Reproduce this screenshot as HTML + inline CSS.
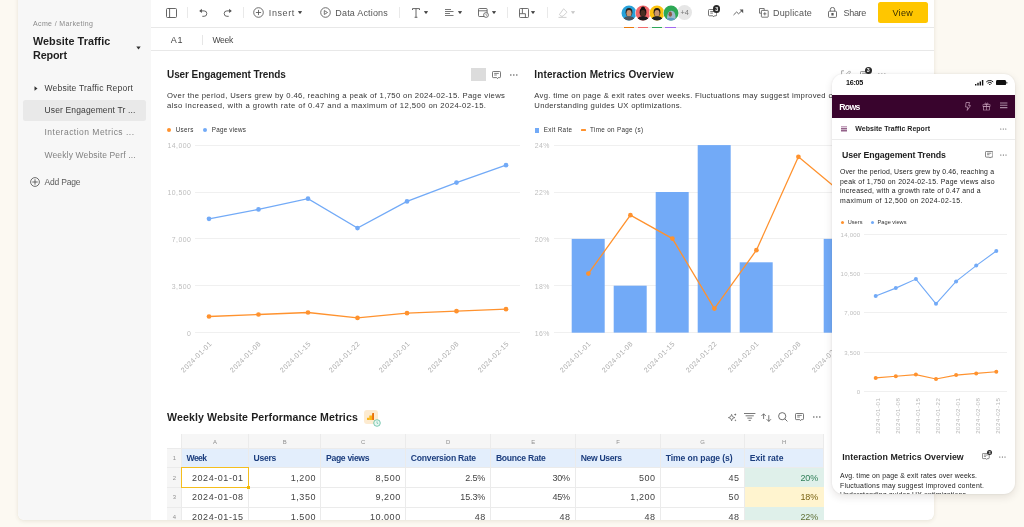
<!DOCTYPE html><html lang="en"><head><meta charset="utf-8"><title>Website Traffic Report</title><style>
html,body{margin:0;padding:0;}
body{width:1024px;height:527px;overflow:hidden;background:#fcf9f2;font-family:'Liberation Sans',sans-serif;position:relative;}
.t{position:absolute;white-space:pre;}
.r{position:absolute;}
#win{position:absolute;left:0;top:0;width:1024px;height:527px;}
#winbg{position:absolute;left:18px;top:-12px;width:915.6px;height:531.5px;background:#fff;border-radius:6px;box-shadow:0 1px 4px rgba(70,60,20,0.11),0 0 1px rgba(0,0,0,0.06);}
#side{position:absolute;left:18px;top:-12px;width:133px;height:531.5px;background:#f7f7f7;border-radius:6px 0 0 6px;}
#clip{position:absolute;left:18px;top:0;width:915.6px;height:519.5px;overflow:hidden;border-radius:0 0 6px 6px;}
#clip>#win{left:-18px;}
#phone{position:absolute;left:832px;top:74.3px;width:183px;height:419.3px;background:#fff;border-radius:11px;overflow:hidden;box-shadow:0 3px 8px rgba(40,20,0,0.11),0 0 2px rgba(0,0,0,0.09);}
</style></head><body><div id="winbg"></div><div id="clip"><div id="win"><div id="side"></div><div class="t" style="left:33.00px;top:19.02px;font-size:7px;line-height:9px;color:#8a8a8a;letter-spacing:0.369px;">Acme / Marketing</div><div class="t" style="left:33.00px;top:34.02px;font-size:10.8px;line-height:14px;color:#1f1f1f;font-weight:700;letter-spacing:0.049px;">Website Traffic</div><div class="t" style="left:33.00px;top:48.02px;font-size:10.8px;line-height:14px;color:#1f1f1f;font-weight:700;letter-spacing:-0.159px;">Report</div><svg class="r" style="left:136.00px;top:46.00px;" width="5" height="4" viewBox="0 0 5 4"><path d="M0.3 0.5h4.4L2.5 3.5z" fill="#333"/></svg><svg class="r" style="left:34.00px;top:85.50px;" width="4" height="5" viewBox="0 0 4 5"><path d="M0.5 0.3v4.4L3.5 2.5z" fill="#333"/></svg><div class="t" style="left:44.50px;top:82.52px;font-size:8.5px;line-height:11px;color:#3a3a3a;letter-spacing:0.215px;">Website Traffic Report</div><div class="r" style="left:23.00px;top:99.80px;width:123.00px;height:21.20px;background:#e9e9e9;border-radius:2.5px;"></div><div class="t" style="left:44.50px;top:104.52px;font-size:8.5px;line-height:11px;color:#3a3a3a;letter-spacing:0.139px;">User Engagement Tr ...</div><div class="t" style="left:44.50px;top:126.52px;font-size:8.5px;line-height:11px;color:#808080;letter-spacing:0.482px;">Interaction Metrics ...</div><div class="t" style="left:44.50px;top:149.52px;font-size:8.5px;line-height:11px;color:#808080;letter-spacing:0.135px;">Weekly Website Perf ...</div><svg class="r" style="left:29.75px;top:177.25px;" width="10" height="10" viewBox="0 0 10 10"><circle cx="5" cy="5" r="4.4" fill="none" stroke="#555" stroke-width="0.85"/><path d="M5 2.3v5.4M2.3 5h5.4" stroke="#555" stroke-width="0.9"/></svg><div class="t" style="left:44.50px;top:176.52px;font-size:8.5px;line-height:11px;color:#5a5a5a;letter-spacing:-0.192px;">Add Page</div><div class="r" style="left:151.00px;top:27.00px;width:783.00px;height:1.00px;background:#e8e8e8;"></div><div class="r" style="left:151.00px;top:50.00px;width:783.00px;height:1.00px;background:#e8e8e8;"></div><svg class="r" style="left:166.00px;top:8.00px;" width="11" height="10" viewBox="0 0 11 10"><rect x="0.5" y="0.5" width="10" height="9" rx="1" fill="none" stroke="#555" stroke-width="0.9"/><path d="M3.6 0.5v9" stroke="#555" stroke-width="0.9"/></svg><div class="r" style="left:186.50px;top:7.00px;width:1.00px;height:11.00px;background:#e9e9e9;"></div><svg class="r" style="left:198.50px;top:8.00px;" width="9" height="9" viewBox="0 0 9 9"><path d="M1.4 2.9h3.7a2.7 2.7 0 0 1 0 5.4H3.3" fill="none" stroke="#555" stroke-width="0.9"/><path d="M0.2 2.9L2.9 0.7v4.4z" fill="#555"/></svg><svg class="r" style="left:223.20px;top:8.00px;" width="9" height="9" viewBox="0 0 9 9"><path d="M5.7 8.3H3.9a2.7 2.7 0 0 1 0-5.4h3.7" fill="none" stroke="#555" stroke-width="0.9"/><path d="M8.8 2.9L6.1 0.7v4.4z" fill="#555"/></svg><div class="r" style="left:243.00px;top:7.00px;width:1.00px;height:11.00px;background:#e9e9e9;"></div><svg class="r" style="left:253.00px;top:7.20px;" width="11" height="11" viewBox="0 0 11 11"><circle cx="5.5" cy="5.5" r="4.8" fill="none" stroke="#555" stroke-width="0.85"/><path d="M5.5 2.9v5.2M2.9 5.5h5.2" stroke="#555" stroke-width="0.85"/></svg><div class="t" style="left:268.80px;top:7.02px;font-size:9px;line-height:12px;color:#555;letter-spacing:0.597px;">Insert</div><svg class="r" style="left:297.80px;top:11.30px;" width="4" height="3" viewBox="0 0 4 3"><path d="M0.2 0.3h3.6L2 2.7z" fill="#333" stroke="#333" stroke-width="0.4" stroke-linejoin="round"/></svg><svg class="r" style="left:319.70px;top:7.20px;" width="11" height="11" viewBox="0 0 11 11"><circle cx="5.5" cy="5.5" r="4.8" fill="none" stroke="#555" stroke-width="0.85"/><path d="M4.3 3.5v4l3.2-2z" fill="none" stroke="#555" stroke-width="0.8" stroke-linejoin="round"/></svg><div class="t" style="left:335.30px;top:7.02px;font-size:9px;line-height:12px;color:#555;letter-spacing:0.179px;">Data Actions</div><div class="r" style="left:399.00px;top:7.00px;width:1.00px;height:11.00px;background:#e9e9e9;"></div><svg class="r" style="left:412.00px;top:8.00px;" width="8" height="10" viewBox="0 0 8 10"><path d="M0.5 2V0.6h7V2M4 0.6v8.6M2.6 9.3h2.8" fill="none" stroke="#555" stroke-width="0.9"/></svg><svg class="r" style="left:423.80px;top:11.30px;" width="4" height="3" viewBox="0 0 4 3"><path d="M0.2 0.3h3.6L2 2.7z" fill="#333" stroke="#333" stroke-width="0.4" stroke-linejoin="round"/></svg><svg class="r" style="left:444.50px;top:9.00px;" width="9" height="7" viewBox="0 0 9 7"><path d="M0 0.5h6M0 2.5h8.5M0 4.5h5M0 6.5h8.5" stroke="#555" stroke-width="0.8"/></svg><svg class="r" style="left:457.50px;top:11.30px;" width="4" height="3" viewBox="0 0 4 3"><path d="M0.2 0.3h3.6L2 2.7z" fill="#333" stroke="#333" stroke-width="0.4" stroke-linejoin="round"/></svg><svg class="r" style="left:477.50px;top:8.00px;" width="11" height="10" viewBox="0 0 11 10"><rect x="0.5" y="0.5" width="8.6" height="8" rx="0.8" fill="none" stroke="#555" stroke-width="0.85"/><path d="M0.5 2.8h8.6" stroke="#555" stroke-width="0.85"/><circle cx="8" cy="7" r="2.4" fill="#fff" stroke="#555" stroke-width="0.8"/><path d="M8 5.8v1.2l0.9 0.6" fill="none" stroke="#555" stroke-width="0.6"/></svg><svg class="r" style="left:491.80px;top:11.30px;" width="4" height="3" viewBox="0 0 4 3"><path d="M0.2 0.3h3.6L2 2.7z" fill="#333" stroke="#333" stroke-width="0.4" stroke-linejoin="round"/></svg><div class="r" style="left:507.00px;top:7.00px;width:1.00px;height:11.00px;background:#e9e9e9;"></div><svg class="r" style="left:518.70px;top:8.00px;" width="10" height="10" viewBox="0 0 10 10"><rect x="0.5" y="0.5" width="9" height="9" rx="0.8" fill="none" stroke="#555" stroke-width="0.85"/><path d="M3.4 0.5v5.2h-2.9M3.4 5.7h3v3.8" fill="none" stroke="#555" stroke-width="0.85"/></svg><svg class="r" style="left:531.00px;top:11.30px;" width="4" height="3" viewBox="0 0 4 3"><path d="M0.2 0.3h3.6L2 2.7z" fill="#333" stroke="#333" stroke-width="0.4" stroke-linejoin="round"/></svg><div class="r" style="left:547.00px;top:7.00px;width:1.00px;height:11.00px;background:#e9e9e9;"></div><svg class="r" style="left:558.00px;top:8.00px;" width="10" height="10" viewBox="0 0 10 10"><path d="M5.6 0.8L9 4.2 5 8.2H3L1.4 6.6z" fill="none" stroke="#c4c4c4" stroke-width="0.8" stroke-linejoin="round"/><path d="M0.5 9.4h8" stroke="#c4c4c4" stroke-width="0.8"/></svg><svg class="r" style="left:571.00px;top:11.30px;" width="4" height="3" viewBox="0 0 4 3"><path d="M0.2 0.3h3.6L2 2.7z" fill="#c4c4c4" stroke="#c4c4c4" stroke-width="0.4" stroke-linejoin="round"/></svg><div class="r" style="left:676.65px;top:5.05px;width:15.30px;height:15.30px;background:#e6e6e6;border-radius:50%;"></div><div class="t" style="left:680.44px;top:8.02px;font-size:7.3px;line-height:9px;color:#777;">+4</div><svg class="r" style="left:620.60px;top:4.50px;" width="16" height="16" viewBox="-0.5 -0.5 15.6 15.6"><defs><clipPath id="c0"><circle cx="7.3" cy="7.3" r="7.3"/></clipPath></defs><circle cx="7.3" cy="7.3" r="7.75" fill="#fff"/><circle cx="7.3" cy="7.3" r="7.3" fill="#27a1d9"/><g clip-path="url(#c0)"><ellipse cx="7.3" cy="6.6" rx="3.3" ry="4.1" fill="#2a2320"/><ellipse cx="7.3" cy="7.6" rx="2.5" ry="3.3" fill="#c99474"/><path d="M1.6 15.4c0-3.6 2.4-4.9 5.7-4.9s5.7 1.3 5.7 4.9z" fill="#4a5560"/></g></svg><div class="r" style="left:623.85px;top:26.50px;width:10.30px;height:1.50px;background:#ea7a0c;"></div><svg class="r" style="left:634.70px;top:4.50px;" width="16" height="16" viewBox="-0.5 -0.5 15.6 15.6"><defs><clipPath id="c1"><circle cx="7.3" cy="7.3" r="7.3"/></clipPath></defs><circle cx="7.3" cy="7.3" r="7.75" fill="#fff"/><circle cx="7.3" cy="7.3" r="7.3" fill="#f2666a"/><g clip-path="url(#c1)"><ellipse cx="7.3" cy="3.2" rx="2" ry="2.2" fill="#15100e"/><ellipse cx="7.3" cy="6.6" rx="3.3" ry="4.1" fill="#15100e"/><ellipse cx="7.3" cy="7.6" rx="2.5" ry="3.3" fill="#4a2e22"/><path d="M1.6 15.4c0-3.6 2.4-4.9 5.7-4.9s5.7 1.3 5.7 4.9z" fill="#1c1a1c"/></g></svg><div class="r" style="left:637.75px;top:26.50px;width:10.30px;height:1.50px;background:#f26b6b;"></div><svg class="r" style="left:648.70px;top:4.50px;" width="16" height="16" viewBox="-0.5 -0.5 15.6 15.6"><defs><clipPath id="c2"><circle cx="7.3" cy="7.3" r="7.3"/></clipPath></defs><circle cx="7.3" cy="7.3" r="7.75" fill="#fff"/><circle cx="7.3" cy="7.3" r="7.3" fill="#fcc30f"/><g clip-path="url(#c2)"><ellipse cx="7.3" cy="6.6" rx="3.3" ry="4.1" fill="#231a14"/><ellipse cx="7.3" cy="7.6" rx="2.5" ry="3.3" fill="#c9956c"/><path d="M1.6 15.4c0-3.6 2.4-4.9 5.7-4.9s5.7 1.3 5.7 4.9z" fill="#1d2226"/></g></svg><div class="r" style="left:651.55px;top:26.50px;width:10.30px;height:1.50px;background:#2fa85a;"></div><svg class="r" style="left:662.50px;top:4.50px;" width="16" height="16" viewBox="-0.5 -0.5 15.6 15.6"><defs><clipPath id="c3"><circle cx="7.3" cy="7.3" r="7.3"/></clipPath></defs><circle cx="7.3" cy="7.3" r="7.75" fill="#fff"/><circle cx="7.3" cy="7.3" r="7.3" fill="#2da855"/><g clip-path="url(#c3)"><path d="M3.6 15c-0.6-3 0-9.600 3.9-9.800 3.600 0 4.600 4 4.200 9.800z" fill="#9db8cc"/><ellipse cx="6.6" cy="8.4" rx="1.7" ry="2.6" fill="#8a5a44"/><path d="M1.600 15.400c0.400-2.400 2.400-3.400 5.400-3.400s5.400 1 5.800 3.400z" fill="#5d9cc4"/></g></svg><div class="r" style="left:665.35px;top:26.50px;width:10.30px;height:1.50px;background:#a36af0;"></div><svg class="r" style="left:708.00px;top:8.60px;" width="9.27" height="8.755" viewBox="0 0 9 8.5"><path d="M1.3 0.5h6.4a0.8 0.8 0 0 1 .8 .8v4.5a0.8 0.8 0 0 1-.8 .8H6.3L5.5 7.6 4.7 6.6H1.3a0.8 0.8 0 0 1-.8-.8V1.3a0.8 0.8 0 0 1 .8-.8z" fill="none" stroke="#555" stroke-width="0.8" stroke-linejoin="round"/><path d="M2.2 2.4h4.6M2.2 4h2.6" stroke="#555" stroke-width="0.75"/></svg><div class="r" style="left:713.10px;top:5.30px;width:7.40px;height:7.40px;background:#2a2a2a;border-radius:50%;"></div><div class="t" style="left:715.31px;top:5.52px;font-size:5.365px;line-height:7px;color:#fff;font-weight:700;">3</div><svg class="r" style="left:733.00px;top:9.00px;" width="11" height="7" viewBox="0 0 11 7"><path d="M0.5 6L3.6 3l2 1.8L9.4 1.2" fill="none" stroke="#555" stroke-width="0.9"/><path d="M6.6 0.6h3.6v3.6z" fill="#555"/></svg><svg class="r" style="left:758.50px;top:7.50px;" width="10" height="10" viewBox="0 0 10 10"><path d="M5.2 2.4V0.5H0.5V5.2H2.4" fill="none" stroke="#555" stroke-width="0.8" stroke-linejoin="round"/><rect x="2.4" y="2.4" width="6.8" height="6.8" rx="0.6" fill="none" stroke="#555" stroke-width="0.8"/><path d="M5.8 4.2v3.2M4.2 5.8h3.2" stroke="#555" stroke-width="0.8"/></svg><div class="t" style="left:773.00px;top:7.02px;font-size:9px;line-height:12px;color:#555;letter-spacing:0.159px;">Duplicate</div><svg class="r" style="left:828.00px;top:6.80px;" width="9" height="11" viewBox="0 0 9 11"><rect x="0.5" y="4.2" width="8" height="6.2" rx="0.9" fill="none" stroke="#555" stroke-width="0.85"/><path d="M2.3 4.2V2.6a2.2 2.2 0 0 1 4.4 0v1.6" fill="none" stroke="#555" stroke-width="0.85"/><rect x="3.7" y="6.4" width="1.6" height="1.8" fill="none" stroke="#555" stroke-width="0.6"/></svg><div class="t" style="left:843.50px;top:7.02px;font-size:9px;line-height:12px;color:#555;letter-spacing:-0.308px;">Share</div><div class="r" style="left:877.60px;top:2.20px;width:50.40px;height:20.80px;background:#ffc600;border-radius:2.5px;"></div><div class="t" style="left:892.47px;top:7.02px;font-size:9px;line-height:12px;color:#3a3000;letter-spacing:0.300px;">View</div><div class="t" style="left:170.80px;top:34.02px;font-size:9px;line-height:12px;color:#444;letter-spacing:0.684px;">A1</div><div class="r" style="left:202.00px;top:35.00px;width:1.00px;height:10.00px;background:#e6e6e6;"></div><div class="t" style="left:212.50px;top:34.52px;font-size:8.5px;line-height:11px;color:#444;letter-spacing:-0.259px;">Week</div><div class="t" style="left:167.00px;top:68.02px;font-size:10px;line-height:13px;color:#1f1f1f;font-weight:700;letter-spacing:-0.085px;">User Engagement Trends</div><div class="r" style="left:470.80px;top:68.00px;width:15.20px;height:12.50px;background:#dcdcdc;"></div><svg class="r" style="left:491.50px;top:70.50px;" width="9.0" height="8.5" viewBox="0 0 9 8.5"><path d="M1.3 0.5h6.4a0.8 0.8 0 0 1 .8 .8v4.5a0.8 0.8 0 0 1-.8 .8H6.3L5.5 7.6 4.7 6.6H1.3a0.8 0.8 0 0 1-.8-.8V1.3a0.8 0.8 0 0 1 .8-.8z" fill="none" stroke="#555" stroke-width="0.8" stroke-linejoin="round"/><path d="M2.2 2.4h4.6M2.2 4h2.6" stroke="#555" stroke-width="0.75"/></svg><svg class="r" style="left:510.00px;top:73.50px;" width="8" height="2" viewBox="0 0 8 2"><circle cx="0.8" cy="1" r="0.75" fill="#555"/><circle cx="3.8" cy="1" r="0.75" fill="#555"/><circle cx="6.8" cy="1" r="0.75" fill="#555"/></svg><div class="t" style="left:167.00px;top:90.52px;font-size:7.7px;line-height:10px;color:#333;letter-spacing:0.347px;">Over the period, Users grew by 0.46, reaching a peak of 1,750 on 2024-02-15. Page views</div><div class="t" style="left:167.00px;top:100.52px;font-size:7.7px;line-height:10px;color:#333;letter-spacing:0.419px;">also increased, with a growth rate of 0.47 and a maximum of 12,500 on 2024-02-15.</div><div class="r" style="left:166.90px;top:128.20px;width:4.20px;height:4.20px;background:#ff922e;border-radius:50%;"></div><div class="t" style="left:175.80px;top:125.52px;font-size:6.3px;line-height:8px;color:#333;letter-spacing:0.262px;">Users</div><div class="r" style="left:202.90px;top:128.20px;width:4.20px;height:4.20px;background:#72aaf7;border-radius:50%;"></div><div class="t" style="left:211.80px;top:125.52px;font-size:6.3px;line-height:8px;color:#333;letter-spacing:0.222px;">Page views</div><div class="r" style="left:195.40px;top:144.60px;width:324.30px;height:1.00px;background:#f0f0f0;"></div><div class="t" style="left:167.62px;top:141.02px;font-size:6.9px;line-height:9px;color:#bdbdbd;letter-spacing:0.420px;">14,000</div><div class="r" style="left:195.40px;top:191.50px;width:324.30px;height:1.00px;background:#f0f0f0;"></div><div class="t" style="left:167.62px;top:188.02px;font-size:6.9px;line-height:9px;color:#bdbdbd;letter-spacing:0.420px;">10,500</div><div class="r" style="left:195.40px;top:238.40px;width:324.30px;height:1.00px;background:#f0f0f0;"></div><div class="t" style="left:171.87px;top:235.02px;font-size:6.9px;line-height:9px;color:#bdbdbd;letter-spacing:0.420px;">7,000</div><div class="r" style="left:195.40px;top:285.20px;width:324.30px;height:1.00px;background:#f0f0f0;"></div><div class="t" style="left:171.87px;top:282.02px;font-size:6.9px;line-height:9px;color:#bdbdbd;letter-spacing:0.420px;">3,500</div><div class="r" style="left:195.40px;top:332.10px;width:324.30px;height:1.00px;background:#f0f0f0;"></div><div class="t" style="left:186.96px;top:329.02px;font-size:6.9px;line-height:9px;color:#bdbdbd;letter-spacing:0.420px;">0</div><svg class="r" style="left:0.00px;top:0.00px;pointer-events:none;" width="1024" height="527" viewBox="0 0 1024 527"><polyline points="209.0,218.8 258.5,209.4 308.0,198.7 357.5,228.1 407.0,201.4 456.5,182.6 506.0,165.2" fill="none" stroke="#72aaf7" stroke-width="1.3"/><circle cx="209.0" cy="218.8" r="2.35" fill="#72aaf7"/><circle cx="258.5" cy="209.4" r="2.35" fill="#72aaf7"/><circle cx="308.0" cy="198.7" r="2.35" fill="#72aaf7"/><circle cx="357.5" cy="228.1" r="2.35" fill="#72aaf7"/><circle cx="407.0" cy="201.4" r="2.35" fill="#72aaf7"/><circle cx="456.5" cy="182.6" r="2.35" fill="#72aaf7"/><circle cx="506.0" cy="165.2" r="2.35" fill="#72aaf7"/><polyline points="209.0,316.5 258.5,314.5 308.0,312.5 357.5,317.9 407.0,313.2 456.5,311.2 506.0,309.2" fill="none" stroke="#ff922e" stroke-width="1.3"/><circle cx="209.0" cy="316.5" r="2.35" fill="#ff922e"/><circle cx="258.5" cy="314.5" r="2.35" fill="#ff922e"/><circle cx="308.0" cy="312.5" r="2.35" fill="#ff922e"/><circle cx="357.5" cy="317.9" r="2.35" fill="#ff922e"/><circle cx="407.0" cy="313.2" r="2.35" fill="#ff922e"/><circle cx="456.5" cy="311.2" r="2.35" fill="#ff922e"/><circle cx="506.0" cy="309.2" r="2.35" fill="#ff922e"/></svg><div class="t" style="left:170.52px;top:338.70px;font-size:7.1px;line-height:9px;letter-spacing:0.42px;color:#adadad;width:40.08px;transform-origin:100% 50%;transform:rotate(-45deg);">2024-01-01</div><div class="t" style="left:220.02px;top:338.70px;font-size:7.1px;line-height:9px;letter-spacing:0.42px;color:#adadad;width:40.08px;transform-origin:100% 50%;transform:rotate(-45deg);">2024-01-08</div><div class="t" style="left:269.52px;top:338.70px;font-size:7.1px;line-height:9px;letter-spacing:0.42px;color:#adadad;width:40.08px;transform-origin:100% 50%;transform:rotate(-45deg);">2024-01-15</div><div class="t" style="left:319.02px;top:338.70px;font-size:7.1px;line-height:9px;letter-spacing:0.42px;color:#adadad;width:40.08px;transform-origin:100% 50%;transform:rotate(-45deg);">2024-01-22</div><div class="t" style="left:368.52px;top:338.70px;font-size:7.1px;line-height:9px;letter-spacing:0.42px;color:#adadad;width:40.08px;transform-origin:100% 50%;transform:rotate(-45deg);">2024-02-01</div><div class="t" style="left:418.02px;top:338.70px;font-size:7.1px;line-height:9px;letter-spacing:0.42px;color:#adadad;width:40.08px;transform-origin:100% 50%;transform:rotate(-45deg);">2024-02-08</div><div class="t" style="left:467.52px;top:338.70px;font-size:7.1px;line-height:9px;letter-spacing:0.42px;color:#adadad;width:40.08px;transform-origin:100% 50%;transform:rotate(-45deg);">2024-02-15</div><div class="t" style="left:534.30px;top:68.02px;font-size:10px;line-height:13px;color:#1f1f1f;font-weight:700;letter-spacing:0.123px;">Interaction Metrics Overview</div><div class="t" style="left:534.30px;top:90.52px;font-size:7.7px;line-height:10px;color:#333;letter-spacing:0.303px;">Avg. time on page &amp; exit rates over weeks. Fluctuations may suggest improved content.</div><div class="t" style="left:534.30px;top:100.52px;font-size:7.7px;line-height:10px;color:#333;letter-spacing:0.296px;">Understanding guides UX optimizations.</div><div class="r" style="left:534.80px;top:128.30px;width:4.30px;height:4.30px;background:#72aaf7;"></div><div class="t" style="left:543.70px;top:125.52px;font-size:6.3px;line-height:8px;color:#333;letter-spacing:0.342px;">Exit Rate</div><div class="r" style="left:581.00px;top:129.40px;width:5.00px;height:1.90px;background:#ff922e;border-radius:0.6px;"></div><div class="t" style="left:590.00px;top:125.52px;font-size:6.3px;line-height:8px;color:#333;letter-spacing:0.329px;">Time on Page (s)</div><svg class="r" style="left:840.50px;top:69.50px;" width="10" height="8" viewBox="0 0 10 8"><path d="M3 0.8H0.6v6h3M5 5.6l0.5-1.8L8.4 0.9l1.2 1.2L6.8 5z" fill="none" stroke="#888" stroke-width="0.7"/></svg><svg class="r" style="left:859.50px;top:70.50px;" width="8.549999999999999" height="8.075" viewBox="0 0 9 8.5"><path d="M1.3 0.5h6.4a0.8 0.8 0 0 1 .8 .8v4.5a0.8 0.8 0 0 1-.8 .8H6.3L5.5 7.6 4.7 6.6H1.3a0.8 0.8 0 0 1-.8-.8V1.3a0.8 0.8 0 0 1 .8-.8z" fill="none" stroke="#777" stroke-width="0.8" stroke-linejoin="round"/><path d="M2.2 2.4h4.6M2.2 4h2.6" stroke="#777" stroke-width="0.75"/></svg><div class="r" style="left:864.50px;top:66.60px;width:7.20px;height:7.20px;background:#2a2a2a;border-radius:50%;"></div><div class="t" style="left:866.65px;top:66.52px;font-size:5.22px;line-height:7px;color:#fff;font-weight:700;">3</div><svg class="r" style="left:878.00px;top:73.00px;" width="8" height="2" viewBox="0 0 8 2"><circle cx="0.8" cy="1" r="0.75" fill="#999"/><circle cx="3.8" cy="1" r="0.75" fill="#999"/><circle cx="6.8" cy="1" r="0.75" fill="#999"/></svg><div class="r" style="left:554.20px;top:144.60px;width:380.00px;height:1.00px;background:#f0f0f0;"></div><div class="t" style="left:534.70px;top:141.02px;font-size:6.9px;line-height:9px;color:#bdbdbd;letter-spacing:0.400px;">24%</div><div class="r" style="left:554.20px;top:191.50px;width:380.00px;height:1.00px;background:#f0f0f0;"></div><div class="t" style="left:534.70px;top:188.02px;font-size:6.9px;line-height:9px;color:#bdbdbd;letter-spacing:0.400px;">22%</div><div class="r" style="left:554.20px;top:238.40px;width:380.00px;height:1.00px;background:#f0f0f0;"></div><div class="t" style="left:534.70px;top:235.02px;font-size:6.9px;line-height:9px;color:#bdbdbd;letter-spacing:0.400px;">20%</div><div class="r" style="left:554.20px;top:285.20px;width:380.00px;height:1.00px;background:#f0f0f0;"></div><div class="t" style="left:534.70px;top:282.02px;font-size:6.9px;line-height:9px;color:#bdbdbd;letter-spacing:0.400px;">18%</div><div class="r" style="left:554.20px;top:332.10px;width:380.00px;height:1.00px;background:#f0f0f0;"></div><div class="t" style="left:534.70px;top:329.02px;font-size:6.9px;line-height:9px;color:#bdbdbd;letter-spacing:0.400px;">16%</div><svg class="r" style="left:0.00px;top:0.00px;pointer-events:none;" width="1024" height="527" viewBox="0 0 1024 527"><rect x="571.7" y="238.9" width="33" height="93.8" fill="#72aaf7"/><rect x="613.7" y="285.7" width="33" height="46.9" fill="#72aaf7"/><rect x="655.7" y="192.0" width="33" height="140.6" fill="#72aaf7"/><rect x="697.7" y="145.1" width="33" height="187.5" fill="#72aaf7"/><rect x="739.7" y="262.3" width="33" height="70.3" fill="#72aaf7"/><rect x="823.7" y="238.9" width="33" height="93.8" fill="#72aaf7"/><polyline points="588.4,273.6 630.4,215.2 672.4,238.6 714.4,308.6 756.4,250.2 798.4,156.8 840.4,191.8" fill="none" stroke="#ff922e" stroke-width="1.3"/><circle cx="588.4" cy="273.6" r="2.35" fill="#ff922e"/><circle cx="630.4" cy="215.2" r="2.35" fill="#ff922e"/><circle cx="672.4" cy="238.6" r="2.35" fill="#ff922e"/><circle cx="714.4" cy="308.6" r="2.35" fill="#ff922e"/><circle cx="756.4" cy="250.2" r="2.35" fill="#ff922e"/><circle cx="798.4" cy="156.8" r="2.35" fill="#ff922e"/><circle cx="840.4" cy="191.8" r="2.35" fill="#ff922e"/></svg><div class="t" style="left:549.92px;top:338.70px;font-size:7.1px;line-height:9px;letter-spacing:0.42px;color:#adadad;width:40.08px;transform-origin:100% 50%;transform:rotate(-45deg);">2024-01-01</div><div class="t" style="left:591.92px;top:338.70px;font-size:7.1px;line-height:9px;letter-spacing:0.42px;color:#adadad;width:40.08px;transform-origin:100% 50%;transform:rotate(-45deg);">2024-01-08</div><div class="t" style="left:633.92px;top:338.70px;font-size:7.1px;line-height:9px;letter-spacing:0.42px;color:#adadad;width:40.08px;transform-origin:100% 50%;transform:rotate(-45deg);">2024-01-15</div><div class="t" style="left:675.92px;top:338.70px;font-size:7.1px;line-height:9px;letter-spacing:0.42px;color:#adadad;width:40.08px;transform-origin:100% 50%;transform:rotate(-45deg);">2024-01-22</div><div class="t" style="left:717.92px;top:338.70px;font-size:7.1px;line-height:9px;letter-spacing:0.42px;color:#adadad;width:40.08px;transform-origin:100% 50%;transform:rotate(-45deg);">2024-02-01</div><div class="t" style="left:759.92px;top:338.70px;font-size:7.1px;line-height:9px;letter-spacing:0.42px;color:#adadad;width:40.08px;transform-origin:100% 50%;transform:rotate(-45deg);">2024-02-08</div><div class="t" style="left:801.92px;top:338.70px;font-size:7.1px;line-height:9px;letter-spacing:0.42px;color:#adadad;width:40.08px;transform-origin:100% 50%;transform:rotate(-45deg);">2024-02-15</div><div class="t" style="left:167.00px;top:410.02px;font-size:10.6px;line-height:14px;color:#1f1f1f;font-weight:700;letter-spacing:0.102px;">Weekly Website Performance Metrics</div><div class="r" style="left:363.80px;top:409.70px;width:14.10px;height:14.10px;background:#fdebd0;border-radius:3px;"></div><svg class="r" style="left:367.00px;top:413.10px;" width="7.4" height="7" viewBox="0 0 7.4 7"><rect x="0" y="4.8" width="2.6" height="2.1" rx="0.3" fill="#fbb616"/><rect x="2.3" y="2.4" width="3" height="4.5" rx="0.3" fill="#fbb616"/><rect x="5.1" y="0" width="2.1" height="6.9" rx="0.4" fill="#e8710a"/></svg><svg class="r" style="left:372.80px;top:418.70px;" width="8" height="8" viewBox="0 0 8 8"><circle cx="4" cy="4" r="3.3" fill="#eaf7f2" stroke="#5dbd9f" stroke-width="0.8"/><path d="M4 2.3v1.9l1.2 0.5" fill="none" stroke="#5dbd9f" stroke-width="0.7"/></svg><svg class="r" style="left:728.00px;top:412.50px;" width="9" height="9" viewBox="0 0 9 9"><path d="M3.6 1.4l0.9 2.3 2.3 0.9-2.3 0.9-0.9 2.3-0.9-2.3L0.4 4.6l2.3-0.9z" fill="none" stroke="#555" stroke-width="0.7" stroke-linejoin="round"/><path d="M7.2 0.3l0.4 1 1 0.4-1 0.4-0.4 1-0.4-1-1-0.4 1-0.4z" fill="#555"/><path d="M7.4 6.2l0.3 0.8 0.8 0.3-0.8 0.3-0.3 0.8-0.3-0.8-0.8-0.3 0.8-0.3z" fill="#555"/></svg><svg class="r" style="left:743.50px;top:413.00px;" width="12" height="8" viewBox="0 0 12 8"><path d="M0 0.5h11.4M1.6 2.8h8.2M3.3 5.1h4.8M4.6 7.4h2.2" stroke="#555" stroke-width="0.8"/></svg><svg class="r" style="left:761.00px;top:412.50px;" width="11" height="9" viewBox="0 0 11 9"><path d="M2.6 6V0.8M0.4 3L2.6 0.8 4.8 3M7.8 2.2v6.2M5.6 6.200l2.200 2.200L10 6.200" fill="none" stroke="#555" stroke-width="0.8"/></svg><svg class="r" style="left:778.00px;top:412.20px;" width="10" height="10" viewBox="0 0 10 10"><circle cx="4.2" cy="4.2" r="3.6" fill="none" stroke="#555" stroke-width="0.85"/><path d="M6.8 6.8L9.4 9.4" stroke="#555" stroke-width="0.85"/></svg><svg class="r" style="left:795.30px;top:412.80px;" width="9.0" height="8.5" viewBox="0 0 9 8.5"><path d="M1.3 0.5h6.4a0.8 0.8 0 0 1 .8 .8v4.5a0.8 0.8 0 0 1-.8 .8H6.3L5.5 7.6 4.7 6.6H1.3a0.8 0.8 0 0 1-.8-.8V1.3a0.8 0.8 0 0 1 .8-.8z" fill="none" stroke="#555" stroke-width="0.8" stroke-linejoin="round"/><path d="M2.2 2.4h4.6M2.2 4h2.6" stroke="#555" stroke-width="0.75"/></svg><svg class="r" style="left:813.00px;top:416.00px;" width="8" height="2" viewBox="0 0 8 2"><circle cx="0.8" cy="1" r="0.75" fill="#555"/><circle cx="3.8" cy="1" r="0.75" fill="#555"/><circle cx="6.8" cy="1" r="0.75" fill="#555"/></svg><div class="r" style="left:181.40px;top:434.30px;width:642.20px;height:13.70px;background:#f6f6f6;"></div><div class="r" style="left:167.00px;top:448.00px;width:14.40px;height:80.00px;background:#f6f6f6;"></div><div class="r" style="left:181.40px;top:448.00px;width:642.20px;height:19.60px;background:#e3eefc;"></div><div class="r" style="left:180.90px;top:434.30px;width:1.00px;height:95.00px;background:#ebebeb;"></div><div class="r" style="left:247.90px;top:434.30px;width:1.00px;height:95.00px;background:#ebebeb;"></div><div class="r" style="left:320.40px;top:434.30px;width:1.00px;height:95.00px;background:#ebebeb;"></div><div class="r" style="left:405.10px;top:434.30px;width:1.00px;height:95.00px;background:#ebebeb;"></div><div class="r" style="left:490.20px;top:434.30px;width:1.00px;height:95.00px;background:#ebebeb;"></div><div class="r" style="left:575.00px;top:434.30px;width:1.00px;height:95.00px;background:#ebebeb;"></div><div class="r" style="left:660.00px;top:434.30px;width:1.00px;height:95.00px;background:#ebebeb;"></div><div class="r" style="left:744.00px;top:434.30px;width:1.00px;height:95.00px;background:#ebebeb;"></div><div class="r" style="left:823.10px;top:434.30px;width:1.00px;height:95.00px;background:#ebebeb;"></div><div class="r" style="left:167.00px;top:448.00px;width:14.00px;height:80.00px;background:#f6f6f6;"></div><div class="r" style="left:167.00px;top:447.50px;width:656.60px;height:1.00px;background:#ebebeb;"></div><div class="r" style="left:167.00px;top:467.10px;width:656.60px;height:1.00px;background:#ebebeb;"></div><div class="r" style="left:167.00px;top:486.90px;width:656.60px;height:1.00px;background:#ebebeb;"></div><div class="r" style="left:167.00px;top:506.70px;width:656.60px;height:1.00px;background:#ebebeb;"></div><div class="r" style="left:167.00px;top:526.50px;width:656.60px;height:1.00px;background:#ebebeb;"></div><div class="r" style="left:745.00px;top:467.60px;width:78.60px;height:19.80px;background:#dff0ea;"></div><div class="r" style="left:745.00px;top:487.40px;width:78.60px;height:19.80px;background:#fff4cf;"></div><div class="r" style="left:745.00px;top:507.20px;width:78.60px;height:19.80px;background:#dff0ea;"></div><div class="t" style="left:212.93px;top:438.02px;font-size:5.9px;line-height:8px;color:#8f8f8f;">A</div><div class="t" style="left:282.68px;top:438.02px;font-size:5.9px;line-height:8px;color:#8f8f8f;">B</div><div class="t" style="left:361.12px;top:438.02px;font-size:5.9px;line-height:8px;color:#8f8f8f;">C</div><div class="t" style="left:446.02px;top:438.02px;font-size:5.9px;line-height:8px;color:#8f8f8f;">D</div><div class="t" style="left:531.13px;top:438.02px;font-size:5.9px;line-height:8px;color:#8f8f8f;">E</div><div class="t" style="left:616.20px;top:438.02px;font-size:5.9px;line-height:8px;color:#8f8f8f;">F</div><div class="t" style="left:700.20px;top:438.02px;font-size:5.9px;line-height:8px;color:#8f8f8f;">G</div><div class="t" style="left:781.92px;top:438.02px;font-size:5.9px;line-height:8px;color:#8f8f8f;">H</div><div class="t" style="left:172.66px;top:454.02px;font-size:5.9px;line-height:8px;color:#8f8f8f;">1</div><div class="t" style="left:172.66px;top:474.02px;font-size:5.9px;line-height:8px;color:#8f8f8f;">2</div><div class="t" style="left:172.66px;top:493.02px;font-size:5.9px;line-height:8px;color:#8f8f8f;">3</div><div class="t" style="left:172.66px;top:513.02px;font-size:5.9px;line-height:8px;color:#8f8f8f;">4</div><div class="t" style="left:186.60px;top:452.52px;font-size:8.6px;line-height:11px;color:#1b3d7e;font-weight:700;letter-spacing:-0.632px;">Week</div><div class="t" style="left:253.60px;top:452.52px;font-size:8.6px;line-height:11px;color:#1b3d7e;font-weight:700;letter-spacing:-0.323px;">Users</div><div class="t" style="left:326.10px;top:452.52px;font-size:8.6px;line-height:11px;color:#1b3d7e;font-weight:700;letter-spacing:-0.327px;">Page views</div><div class="t" style="left:410.80px;top:452.52px;font-size:8.6px;line-height:11px;color:#1b3d7e;font-weight:700;letter-spacing:-0.214px;">Conversion Rate</div><div class="t" style="left:495.90px;top:452.52px;font-size:8.6px;line-height:11px;color:#1b3d7e;font-weight:700;letter-spacing:-0.263px;">Bounce Rate</div><div class="t" style="left:580.70px;top:452.52px;font-size:8.6px;line-height:11px;color:#1b3d7e;font-weight:700;letter-spacing:-0.332px;">New Users</div><div class="t" style="left:665.70px;top:452.52px;font-size:8.6px;line-height:11px;color:#1b3d7e;font-weight:700;letter-spacing:-0.075px;">Time on page (s)</div><div class="t" style="left:749.70px;top:452.52px;font-size:8.6px;line-height:11px;color:#1b3d7e;font-weight:700;letter-spacing:-0.015px;">Exit rate</div><div class="t" style="left:192.00px;top:472.02px;font-size:9px;line-height:12px;color:#444;letter-spacing:0.550px;">2024-01-01</div><div class="t" style="left:290.77px;top:472.02px;font-size:9px;line-height:12px;color:#444;letter-spacing:0.550px;">1,200</div><div class="t" style="left:375.47px;top:472.02px;font-size:9px;line-height:12px;color:#444;letter-spacing:0.550px;">8,500</div><div class="t" style="left:465.23px;top:472.02px;font-size:9px;line-height:12px;color:#444;letter-spacing:-0.150px;">2.5%</div><div class="t" style="left:552.38px;top:472.02px;font-size:9px;line-height:12px;color:#444;letter-spacing:-0.150px;">30%</div><div class="t" style="left:638.97px;top:472.02px;font-size:9px;line-height:12px;color:#444;letter-spacing:0.550px;">500</div><div class="t" style="left:728.53px;top:472.02px;font-size:9px;line-height:12px;color:#444;letter-spacing:0.550px;">45</div><div class="t" style="left:800.48px;top:472.02px;font-size:9px;line-height:12px;color:#2e7d57;letter-spacing:-0.150px;">20%</div><div class="t" style="left:192.00px;top:491.02px;font-size:9px;line-height:12px;color:#444;letter-spacing:0.550px;">2024-01-08</div><div class="t" style="left:290.77px;top:491.02px;font-size:9px;line-height:12px;color:#444;letter-spacing:0.550px;">1,350</div><div class="t" style="left:375.47px;top:491.02px;font-size:9px;line-height:12px;color:#444;letter-spacing:0.550px;">9,200</div><div class="t" style="left:460.37px;top:491.02px;font-size:9px;line-height:12px;color:#444;letter-spacing:-0.150px;">15.3%</div><div class="t" style="left:552.38px;top:491.02px;font-size:9px;line-height:12px;color:#444;letter-spacing:-0.150px;">45%</div><div class="t" style="left:630.37px;top:491.02px;font-size:9px;line-height:12px;color:#444;letter-spacing:0.550px;">1,200</div><div class="t" style="left:728.53px;top:491.02px;font-size:9px;line-height:12px;color:#444;letter-spacing:0.550px;">50</div><div class="t" style="left:800.48px;top:491.02px;font-size:9px;line-height:12px;color:#7a6414;letter-spacing:-0.150px;">18%</div><div class="t" style="left:192.00px;top:511.02px;font-size:9px;line-height:12px;color:#444;letter-spacing:0.550px;">2024-01-15</div><div class="t" style="left:290.77px;top:511.02px;font-size:9px;line-height:12px;color:#444;letter-spacing:0.550px;">1,500</div><div class="t" style="left:369.92px;top:511.02px;font-size:9px;line-height:12px;color:#444;letter-spacing:0.550px;">10,000</div><div class="t" style="left:474.73px;top:511.02px;font-size:9px;line-height:12px;color:#444;letter-spacing:0.550px;">48</div><div class="t" style="left:559.53px;top:511.02px;font-size:9px;line-height:12px;color:#444;letter-spacing:0.550px;">48</div><div class="t" style="left:644.53px;top:511.02px;font-size:9px;line-height:12px;color:#444;letter-spacing:0.550px;">48</div><div class="t" style="left:728.53px;top:511.02px;font-size:9px;line-height:12px;color:#444;letter-spacing:0.550px;">48</div><div class="t" style="left:800.48px;top:511.02px;font-size:9px;line-height:12px;color:#5f6f35;letter-spacing:-0.150px;">22%</div><div class="r" style="left:181.00px;top:467.20px;width:67.60px;height:20.40px;background:transparent;border:1px solid #f5be1e;box-sizing:border-box;"></div><div class="r" style="left:247.20px;top:486.20px;width:2.60px;height:2.60px;background:#f2b705;"></div></div></div><div id="phone"><div style="position:absolute;left:-832px;top:-74.3px;width:1024px;height:527px;"><div class="t" style="left:846.00px;top:78.02px;font-size:7.2px;line-height:9px;color:#111;font-weight:700;letter-spacing:-0.273px;">16:05</div><svg class="r" style="left:975.00px;top:80.00px;" width="9" height="5.5" viewBox="0 0 9 5.5"><rect x="0" y="4" width="1.4" height="1.5" fill="#111"/><rect x="2.3" y="2.8" width="1.4" height="2.7" fill="#111"/><rect x="4.6" y="1.5" width="1.4" height="4" fill="#111"/><rect x="6.9" y="0" width="1.4" height="5.5" fill="#111"/></svg><svg class="r" style="left:986.00px;top:79.80px;" width="7.5" height="5.6" viewBox="0 0 7.5 5.6"><path d="M0.3 1.9a5 5 0 0 1 6.9 0" fill="none" stroke="#111" stroke-width="1"/><path d="M1.6 3.3a3.2 3.2 0 0 1 4.3 0" fill="none" stroke="#111" stroke-width="1"/><circle cx="3.75" cy="4.8" r="0.8" fill="#111"/></svg><svg class="r" style="left:996.30px;top:80.00px;" width="11.5" height="5.4" viewBox="0 0 11.5 5.4"><rect x="0" y="0" width="10" height="5.4" rx="1.4" fill="#111"/><rect x="10.4" y="1.7" width="0.9" height="2" rx="0.4" fill="#111"/></svg><div class="r" style="left:832.00px;top:94.60px;width:183.00px;height:23.00px;background:#39042d;"></div><div class="t" style="left:839.20px;top:101.52px;font-size:8.7px;line-height:11px;color:#fff;font-weight:700;letter-spacing:-0.657px;">Rows</div><svg class="r" style="left:965.30px;top:101.80px;" width="6" height="9" viewBox="0 0 6 9"><path d="M1 0.5h3.6L3.6 3.6h1.9L2.2 8.4l0.5-3.4H0.6z" fill="none" stroke="#c9a3bd" stroke-width="0.7" stroke-linejoin="round"/></svg><svg class="r" style="left:981.90px;top:101.60px;transform:scale(0.92);" width="9" height="9" viewBox="0 0 9 9"><rect x="0.5" y="2.6" width="8" height="1.8" fill="none" stroke="#c9a3bd" stroke-width="0.7"/><rect x="1.3" y="4.4" width="6.4" height="4" fill="none" stroke="#c9a3bd" stroke-width="0.7"/><path d="M4.5 2.6v5.8M4.5 2.6C3 2.6 2.2 0.6 3.4 0.6 4.2 0.6 4.5 2.6 4.5 2.6c0 0 0.3-2 1.1-2 1.2 0 0.4 2-1.1 2z" fill="none" stroke="#c9a3bd" stroke-width="0.7"/></svg><svg class="r" style="left:1000.00px;top:102.00px;" width="8" height="7" viewBox="0 0 8 7"><path d="M0 1h7.4M0 3.3h7.4M0 5.6h7.4" stroke="#a98aa2" stroke-width="1.05"/></svg><svg class="r" style="left:840.50px;top:126.20px;" width="6.5" height="5.4" viewBox="0 0 6.5 5.4"><path d="M0 0.7h6.4" stroke="#c4a2bd" stroke-width="1.4"/><path d="M0 2.7h6.4M0 4.7h6.4" stroke="#94638a" stroke-width="1.4"/></svg><div class="t" style="left:855.30px;top:124.02px;font-size:7px;line-height:9px;color:#1f1f1f;font-weight:700;letter-spacing:0.025px;">Website Traffic Report</div><svg class="r" style="left:1000.00px;top:127.50px;" width="8" height="2" viewBox="0 0 8 2"><circle cx="0.8" cy="1" r="0.55" fill="#444"/><circle cx="3.3" cy="1" r="0.55" fill="#444"/><circle cx="5.8" cy="1" r="0.55" fill="#444"/></svg><div class="r" style="left:832.00px;top:138.60px;width:183.00px;height:1.00px;background:#ececec;"></div><div class="t" style="left:842.00px;top:149.52px;font-size:8.8px;line-height:11px;color:#1f1f1f;font-weight:700;letter-spacing:-0.104px;">User Engagement Trends</div><svg class="r" style="left:985.00px;top:151.40px;" width="8.370000000000001" height="7.905" viewBox="0 0 9 8.5"><path d="M1.3 0.5h6.4a0.8 0.8 0 0 1 .8 .8v4.5a0.8 0.8 0 0 1-.8 .8H6.3L5.5 7.6 4.7 6.6H1.3a0.8 0.8 0 0 1-.8-.8V1.3a0.8 0.8 0 0 1 .8-.8z" fill="none" stroke="#555" stroke-width="0.8" stroke-linejoin="round"/><path d="M2.2 2.4h4.6M2.2 4h2.6" stroke="#555" stroke-width="0.75"/></svg><svg class="r" style="left:999.70px;top:154.00px;" width="8" height="2" viewBox="0 0 8 2"><circle cx="0.8" cy="1" r="0.6" fill="#444"/><circle cx="3.4000000000000004" cy="1" r="0.6" fill="#444"/><circle cx="6.0" cy="1" r="0.6" fill="#444"/></svg><div class="t" style="left:840.00px;top:167.02px;font-size:6.9px;line-height:9px;color:#222;letter-spacing:0.159px;">Over the period, Users grew by 0.46, reaching a</div><div class="t" style="left:840.00px;top:177.02px;font-size:6.9px;line-height:9px;color:#222;letter-spacing:0.288px;">peak of 1,750 on 2024-02-15. Page views also</div><div class="t" style="left:840.00px;top:186.02px;font-size:6.9px;line-height:9px;color:#222;letter-spacing:0.244px;">increased, with a growth rate of 0.47 and a</div><div class="t" style="left:840.00px;top:196.02px;font-size:6.9px;line-height:9px;color:#222;letter-spacing:0.430px;">maximum of 12,500 on 2024-02-15.</div><div class="r" style="left:840.60px;top:220.80px;width:3.60px;height:3.60px;background:#ff922e;border-radius:50%;"></div><div class="t" style="left:847.70px;top:218.52px;font-size:5.6px;line-height:7px;color:#333;letter-spacing:0.048px;">Users</div><div class="r" style="left:870.60px;top:220.80px;width:3.60px;height:3.60px;background:#72aaf7;border-radius:50%;"></div><div class="t" style="left:877.60px;top:218.52px;font-size:5.6px;line-height:7px;color:#333;letter-spacing:0.032px;">Page views</div><div class="r" style="left:864.30px;top:233.70px;width:143.00px;height:1.00px;background:#f0f0f0;"></div><div class="t" style="left:840.59px;top:231.02px;font-size:6px;line-height:8px;color:#bdbdbd;letter-spacing:0.250px;">14,000</div><div class="r" style="left:864.30px;top:273.00px;width:143.00px;height:1.00px;background:#f0f0f0;"></div><div class="t" style="left:840.59px;top:270.02px;font-size:6px;line-height:8px;color:#bdbdbd;letter-spacing:0.250px;">10,500</div><div class="r" style="left:864.30px;top:312.30px;width:143.00px;height:1.00px;background:#f0f0f0;"></div><div class="t" style="left:844.18px;top:309.02px;font-size:6px;line-height:8px;color:#bdbdbd;letter-spacing:0.250px;">7,000</div><div class="r" style="left:864.30px;top:351.60px;width:143.00px;height:1.00px;background:#f0f0f0;"></div><div class="t" style="left:844.18px;top:349.02px;font-size:6px;line-height:8px;color:#bdbdbd;letter-spacing:0.250px;">3,500</div><div class="r" style="left:864.30px;top:390.90px;width:143.00px;height:1.00px;background:#f0f0f0;"></div><div class="t" style="left:856.86px;top:388.02px;font-size:6px;line-height:8px;color:#bdbdbd;letter-spacing:0.250px;">0</div><svg class="r" style="left:0.00px;top:0.00px;" width="1024" height="527" viewBox="0 0 1024 527"><polyline points="875.7,296.0 895.8,288.1 915.9,279.1 936.0,303.8 956.1,281.4 976.2,265.6 996.3,251.0" fill="none" stroke="#72aaf7" stroke-width="1.15"/><circle cx="875.7" cy="296.0" r="2.0" fill="#72aaf7"/><circle cx="895.8" cy="288.1" r="2.0" fill="#72aaf7"/><circle cx="915.9" cy="279.1" r="2.0" fill="#72aaf7"/><circle cx="936.0" cy="303.8" r="2.0" fill="#72aaf7"/><circle cx="956.1" cy="281.4" r="2.0" fill="#72aaf7"/><circle cx="976.2" cy="265.6" r="2.0" fill="#72aaf7"/><circle cx="996.3" cy="251.0" r="2.0" fill="#72aaf7"/><polyline points="875.7,377.9 895.8,376.2 915.9,374.6 936.0,379.0 956.1,375.1 976.2,373.4 996.3,371.8" fill="none" stroke="#ff922e" stroke-width="1.15"/><circle cx="875.7" cy="377.9" r="2.0" fill="#ff922e"/><circle cx="895.8" cy="376.2" r="2.0" fill="#ff922e"/><circle cx="915.9" cy="374.6" r="2.0" fill="#ff922e"/><circle cx="936.0" cy="379.0" r="2.0" fill="#ff922e"/><circle cx="956.1" cy="375.1" r="2.0" fill="#ff922e"/><circle cx="976.2" cy="373.4" r="2.0" fill="#ff922e"/><circle cx="996.3" cy="371.8" r="2.0" fill="#ff922e"/></svg><div class="t" style="left:859.95px;top:411.50px;font-size:6.2px;line-height:8px;letter-spacing:0.45px;color:#b9b9b9;width:35.71px;transform:rotate(-90deg);">2024-01-01</div><div class="t" style="left:879.98px;top:411.50px;font-size:6.2px;line-height:8px;letter-spacing:0.45px;color:#b9b9b9;width:35.71px;transform:rotate(-90deg);">2024-01-08</div><div class="t" style="left:900.01px;top:411.50px;font-size:6.2px;line-height:8px;letter-spacing:0.45px;color:#b9b9b9;width:35.71px;transform:rotate(-90deg);">2024-01-15</div><div class="t" style="left:920.04px;top:411.50px;font-size:6.2px;line-height:8px;letter-spacing:0.45px;color:#b9b9b9;width:35.71px;transform:rotate(-90deg);">2024-01-22</div><div class="t" style="left:940.07px;top:411.50px;font-size:6.2px;line-height:8px;letter-spacing:0.45px;color:#b9b9b9;width:35.71px;transform:rotate(-90deg);">2024-02-01</div><div class="t" style="left:960.10px;top:411.50px;font-size:6.2px;line-height:8px;letter-spacing:0.45px;color:#b9b9b9;width:35.71px;transform:rotate(-90deg);">2024-02-08</div><div class="t" style="left:980.13px;top:411.50px;font-size:6.2px;line-height:8px;letter-spacing:0.45px;color:#b9b9b9;width:35.71px;transform:rotate(-90deg);">2024-02-15</div><div class="t" style="left:842.30px;top:451.52px;font-size:8.8px;line-height:11px;color:#1f1f1f;font-weight:700;letter-spacing:0.060px;">Interaction Metrics Overview</div><svg class="r" style="left:982.40px;top:453.00px;" width="7.6499999999999995" height="7.225" viewBox="0 0 9 8.5"><path d="M1.3 0.5h6.4a0.8 0.8 0 0 1 .8 .8v4.5a0.8 0.8 0 0 1-.8 .8H6.3L5.5 7.6 4.7 6.6H1.3a0.8 0.8 0 0 1-.8-.8V1.3a0.8 0.8 0 0 1 .8-.8z" fill="none" stroke="#555" stroke-width="0.8" stroke-linejoin="round"/><path d="M2.2 2.4h4.6M2.2 4h2.6" stroke="#555" stroke-width="0.75"/></svg><div class="r" style="left:986.90px;top:450.00px;width:5.20px;height:5.20px;background:#2a2a2a;border-radius:50%;"></div><div class="t" style="left:988.45px;top:450.52px;font-size:3.77px;line-height:5px;color:#fff;font-weight:700;">3</div><svg class="r" style="left:998.60px;top:455.80px;" width="8" height="2" viewBox="0 0 8 2"><circle cx="0.8" cy="1" r="0.6" fill="#444"/><circle cx="3.4000000000000004" cy="1" r="0.6" fill="#444"/><circle cx="6.0" cy="1" r="0.6" fill="#444"/></svg><div class="t" style="left:840.00px;top:471.02px;font-size:6.9px;line-height:9px;color:#222;letter-spacing:0.159px;">Avg. time on page &amp; exit rates over weeks.</div><div class="t" style="left:840.00px;top:481.02px;font-size:6.9px;line-height:9px;color:#222;letter-spacing:0.224px;">Fluctuations may suggest improved content.</div><div class="t" style="left:840.00px;top:490.02px;font-size:6.9px;line-height:9px;color:#222;letter-spacing:0.147px;">Understanding guides UX optimizations.</div></div></div></body></html>
